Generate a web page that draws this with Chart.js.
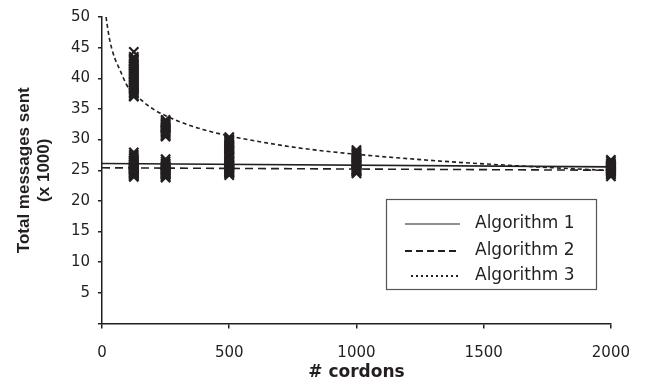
<!DOCTYPE html>
<html>
<head>
<meta charset="utf-8">
<script src="https://cdn.jsdelivr.net/npm/chart.js@4.4.1/dist/chart.umd.min.js"></script>
<style>
  html, body { margin: 0; padding: 0; background: #fff; }
  #wrap { width: 646px; height: 386px; position: relative; }
</style>
</head>
<body>
<div id="wrap"><canvas id="c" width="646" height="386"></canvas></div>
<script>
// ---- data ----
const algorithms = ['Algorithm 1', 'Algorithm 2', 'Algorithm 3'];
const cordonCounts = [125, 250, 500, 1000, 2000];

// individual runs (total messages sent, x 1000) per cordon count
const alg1Samples = [
  [24.4, 24.6, 24.8, 25.0, 25.2, 25.4, 25.6, 25.8, 26.0, 26.2, 26.4, 26.6, 26.9, 27.2, 27.5, 27.9],
  [24.3, 24.5, 24.7, 24.9, 25.1, 25.3, 25.5, 25.7, 25.9, 26.1, 26.4, 26.8],
  [24.6, 24.8, 25.0, 25.2, 25.4, 25.6, 25.8, 26.0, 26.2, 26.4, 26.6, 26.9],
  [24.8, 25.0, 25.2, 25.4, 25.6, 25.8, 26.0, 26.2],
  [24.8, 25.0, 25.2, 25.4, 25.6, 25.8]
];
const alg2Samples = [
  [23.9, 24.1, 24.3, 24.5, 24.7, 24.9, 25.1, 25.3, 25.5],
  [23.8, 24.0, 24.2, 24.4, 24.6, 24.8, 25.0],
  [24.2, 24.4, 24.6, 24.8, 25.0, 25.2],
  [24.5, 24.7, 24.9, 25.1],
  [24.0, 24.3, 24.5, 24.7, 24.9]
];
const alg3Samples = [
  [37.0, 37.2, 37.5, 37.7, 37.9, 38.1, 38.4, 38.6, 38.8, 39.0, 39.3, 39.5, 39.7, 39.9, 40.2, 40.4, 40.6, 40.8, 41.1, 41.3, 41.5, 41.7, 42.0, 42.2, 42.4, 42.7, 42.9, 43.2, 43.5, 44.3],
  [30.5, 30.7, 30.9, 31.1, 31.3, 31.5, 31.7, 31.9, 32.1, 32.3, 32.5, 32.7, 32.9, 33.2],
  [27.1, 27.3, 27.5, 27.7, 27.9, 28.1, 28.3, 28.5, 28.7, 28.9, 29.1, 29.3, 29.5, 29.7, 29.9, 30.1, 30.4],
  [26.4, 26.6, 26.8, 27.0, 27.2, 27.4, 27.6, 27.8, 28.0, 28.3],
  [25.1, 25.3, 25.5, 25.7, 25.9, 26.1, 26.4, 26.7]
];

// trend lines
const linearTrendX = [0, 2000];
const alg1Trend = [26.1, 25.55];
const alg2Trend = [25.4, 25.0];
const alg3TrendX = [16, 20, 30, 40, 50, 70, 100, 125, 150, 200, 250, 300, 400, 500, 600, 700, 800, 1000, 1200, 1400, 1600, 1800, 2000];
const alg3TrendY = [50.0, 48.8, 46.3, 44.6, 43.3, 41.4, 38.7, 37.6, 36.6, 35.0, 33.9, 33.0, 31.6, 30.6, 29.8, 29.1, 28.5, 27.6, 26.9, 26.3, 25.8, 25.35, 24.95];

const xTitle = '# cordons';
const yTitle = ['Total messages sent', '(x 1000)'];

// ---- build ----
const INK = '#231f20';
function samplesToPoints(samples) {
  const pts = [];
  samples.forEach((vals, i) => vals.forEach(v => pts.push({x: cordonCounts[i], y: v})));
  return pts;
}
function xyPoints(xs, ys) { return xs.map((x, i) => ({x: x, y: ys[i]})); }

const scatterStyle = {
  type: 'scatter', showLine: false, pointStyle: 'crossRot', pointRadius: 6.5, clip: false,
  pointBorderWidth: 2.2, pointBorderColor: INK, pointBackgroundColor: INK, borderColor: INK
};
const lineStyle = {
  type: 'line', pointRadius: 0, fill: false, borderColor: INK, borderWidth: 1.6
};

const legendPlugin = {
  id: 'boxLegend',
  afterDraw(chart) {
    const ctx = chart.ctx;
    ctx.save();
    ctx.strokeStyle = '#555';
    ctx.lineWidth = 1.2;
    ctx.strokeRect(386.5, 199.5, 210, 90);
    const rows = [
      {y: 224, dash: []},
      {y: 251, dash: [7, 4]},
      {y: 276, dash: [2, 3]}
    ];
    ctx.font = '17px "DejaVu Sans"';
    ctx.textBaseline = 'middle';
    ctx.textAlign = 'left';
    rows.forEach((r, i) => {
      ctx.beginPath();
      ctx.setLineDash(r.dash);
      ctx.strokeStyle = INK;
      ctx.lineWidth = i === 0 ? 1.2 : 1.8;
      ctx.moveTo(i === 2 ? 411 : 405, r.y);
      ctx.lineTo(460, r.y);
      ctx.stroke();
      ctx.setLineDash([]);
      ctx.fillStyle = INK;
      ctx.fillText(algorithms[i], 475, r.y);
    });
    ctx.restore();
  }
};

new Chart(document.getElementById('c'), {
  data: {
    datasets: [
      Object.assign({label: algorithms[0] + ' runs', data: samplesToPoints(alg1Samples)}, scatterStyle),
      Object.assign({label: algorithms[1] + ' runs', data: samplesToPoints(alg2Samples)}, scatterStyle),
      Object.assign({label: algorithms[2] + ' runs', data: samplesToPoints(alg3Samples)}, scatterStyle),
      Object.assign({label: algorithms[0], data: xyPoints(linearTrendX, alg1Trend)}, lineStyle),
      Object.assign({label: algorithms[1], data: xyPoints(linearTrendX, alg2Trend), borderDash: [8, 5]}, lineStyle),
      Object.assign({label: algorithms[2], data: xyPoints(alg3TrendX, alg3TrendY), borderDash: [4, 3], cubicInterpolationMode: 'monotone'}, lineStyle)
    ]
  },
  options: {
    responsive: false,
    animation: false,
    layout: { padding: { top: 15, right: 32, left: 0, bottom: 0 } },
    plugins: { legend: { display: false }, tooltip: { enabled: false } },
    scales: {
      x: {
        type: 'linear', min: 0, max: 2000,
        afterFit(s) { s.height = 62.5; },
        ticks: { stepSize: 500, color: INK, padding: 16, font: { family: 'DejaVu Sans', size: 15 },
                 callback: v => String(v) },
        grid: { display: true, drawOnChartArea: false, drawTicks: true, tickLength: 5, color: INK, lineWidth: 1.5 },
        border: { display: true, color: INK, width: 1.5 },
        title: { display: true, text: xTitle, color: INK, padding: { top: 0, bottom: 3 },
                 font: { family: 'DejaVu Sans', size: 17, weight: 'bold' } }
      },
      y: {
        type: 'linear', min: 0, max: 50,
        afterFit(s) { s.width = 102; },
        ticks: { stepSize: 5, color: INK, padding: 8,
                 font: { family: 'DejaVu Sans', size: 15 },
                 callback: v => (v === 0 ? '' : String(v)) },
        grid: { display: true, drawOnChartArea: false, drawTicks: true, tickLength: 4, color: INK, lineWidth: 1.5 },
        border: { display: true, color: INK, width: 1.5 },
        title: { display: true, text: yTitle, color: INK, padding: { top: 15, bottom: 0 },
                 font: { family: 'Liberation Sans', size: 17, weight: 'bold', lineHeight: 1.15 } }
      }
    }
  },
  plugins: [legendPlugin]
});
</script>
</body>
</html>
